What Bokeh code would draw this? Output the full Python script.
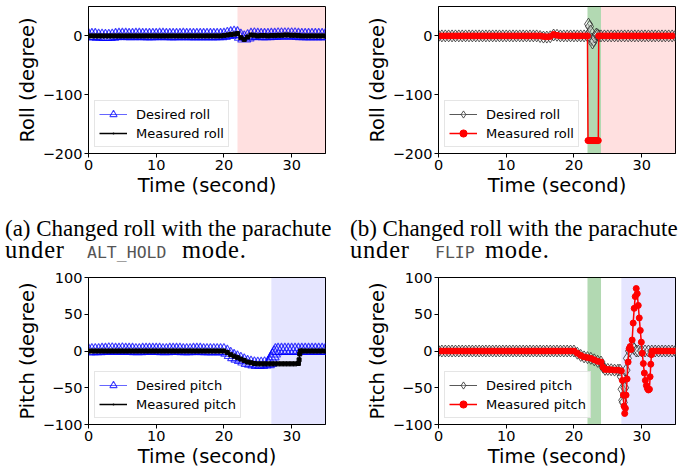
from bokeh.plotting import figure
from bokeh.models import BoxAnnotation, Legend, LegendItem, FixedTicker, Div, Range1d
from bokeh.layouts import column, row
from bokeh.embed import file_html
from bokeh.resources import INLINE

# ---------------- data ----------------
t_flat = [0.0, 0.5, 1.0, 1.5, 2.0, 2.5, 3.0, 3.5, 4.0, 4.5, 5.0, 5.5, 6.0, 6.5, 7.0, 7.5,
          8.0, 8.5, 9.0, 9.5, 10.0, 10.5, 11.0, 11.5, 12.0, 12.5, 13.0, 13.5, 14.0, 14.5,
          15.0, 15.5, 16.0, 16.5, 17.0, 17.5, 18.0, 18.5, 19.0, 19.5]
t_tail = [20.0, 20.5, 21.0, 21.5, 22.0, 22.5, 23.0, 23.5, 24.0, 24.5, 25.0, 25.5, 26.0,
          26.5, 27.0, 27.5, 28.0, 28.5, 29.0, 29.5, 30.0, 30.5, 31.0, 31.5, 32.0, 32.5,
          33.0, 33.5, 34.0, 34.5, 35.0]

# (a) roll, ALT_HOLD
roll_alt_des_t = t_flat + t_tail
roll_alt_des = [0, 0, 0, -1, -1, -1.5, -1.5, -1, 0, 0.5, 0.5, 0.5, 0, 0, 0.5, 0.5, 0, 0, 0, 0,
                0, 0.5, 0.5, 0, 0, 0, 0, 0, 0.5, 0, 0, 0, 0, 0, 0, 0, 0, 0, 0, 0,
                0.5, 2, 3, 4, 3, -1, -4, -2, 0.5, 1, 0.5, 0, 0, 0, 0.5, 0.5, 1, 1, 1, 1,
                1, 1, 0.5, 0, 0, 0, 0, 0, 0, 0, 0]
roll_alt_mea_t = t_flat + t_tail
roll_alt_mea = [0, 0, 0, 0, 0, 0, 0, 0, 0, 0, 0, 0, 0, 0, 0, 0, 0, 0, 0, 0,
                0, 0, 0, 0, 0, 0, 0, 0, 0, 0, 0, 0, 0, 0, 0, 0, 0, 0, 0, 0,
                0.5, 1.5, 2.5, 3, 4, -3, -6, -2, 1.5, 1, 0, 0.5, 0.5, 0, 0.5, 0.5, 1, 1, 1.5, 1.5,
                1, 1, 0.5, 0, 0, 0, 0, 0, 0, 0, 0]

# (b) roll, FLIP
roll_flip_des_t = t_flat + [20.0, 20.5, 21.0, 21.5, 22.0, 22.15, 22.3, 22.45, 22.6, 22.75, 22.9,
                            23.1, 23.3, 23.5, 23.7, 24.0, 24.5, 25.0, 25.5, 26.0, 26.5, 27.0,
                            27.5, 28.0, 28.5, 29.0, 29.5, 30.0, 30.5, 31.0, 31.5, 32.0, 32.5,
                            33.0, 33.5, 34.0, 34.5, 35.0]
roll_flip_des = [0, 0, 0, 0, 0, 0, 0, 0, 0, 0, 0, 0, 0, 0, 0, 0, 0, 0, 0, 0,
                 0, 0, 0, 0, 0, 0, 0, 0, 0, 0, -1, -2, -2, -1.5, 1.5, 1, 0, 0, 0, 0,
                 0, 0, 0, 0, 0, 20, 16, 8, -6, -12, -8, -2, 3, 2, 0, 0, 0, 0, 0, 0, 0, 0,
                 0, 0, 0, 0, 0, 0, 0, 0, 0, 0, 0, 0, 0, 0, 0, 0]
roll_flip_mea_t = t_flat + [20.0, 20.5, 21.0, 21.5, 22.0, 22.08, 22.25, 22.4, 22.55, 22.7, 22.85,
                            23.0, 23.15, 23.3, 23.45, 23.6, 23.66, 24.0, 24.5, 25.0, 25.5, 26.0,
                            26.5, 27.0, 27.5, 28.0, 28.5, 29.0, 29.5, 30.0, 30.5, 31.0, 31.5,
                            32.0, 32.5, 33.0, 33.5, 34.0, 34.5, 35.0]
roll_flip_mea = [0, 0, 0, 0, 0, 0, 0, 0, 0, 0, 0, 0, 0, 0, 0, 0, 0, 0, 0, 0,
                 0, 0, 0, 0, 0, 0, 0, 0, 0, 0, 0, -1, -1.5, -1, 2.5, 1, 0, 0, 0, 0,
                 0, 0, 0, 0, 0, -178, -178, -178, -178, -178, -178, -178, -178, -178, -178, -178,
                 0, 0, 0, 0, 0, 0, 0, 0, 0, 0, 0, 0, 0, 0, 0, 0, 0, 0, 0, 0, 0, 0, 0]

# (c) pitch, ALT_HOLD
pitch_alt_des_t = t_flat + [20.0, 20.5, 21.0, 21.5, 22.0, 22.5, 23.0, 23.5, 24.0, 24.5, 25.0,
                            25.5, 26.0, 26.5, 26.8, 27.0, 27.2, 27.4, 27.6, 28.0, 28.5, 29.0,
                            29.5, 30.0, 30.5, 31.0, 31.5, 32.0, 32.5, 33.0, 33.5, 34.0, 34.5, 35.0]
pitch_alt_des = [0, 0, 0, 0, 0.5, 0.5, 1, 1, 0.5, 0.5, 1, 0.5, 0.5, 0.5, 0, 0, 0.5, 0.5, 0.5, 0.5,
                 0.5, 0.5, 0, 0, 0.5, 0.5, 0.5, 0.5, 0, 0, 0, 0.5, 0.5, 0.5, 0, 0, 0, 0, 0, 0,
                 0, -2, -5, -8, -10, -12, -14, -16, -17, -18, -18.5, -18.5, -18, -17.5, -16,
                 -12, -7, -3, 0, 0.5, 0.5, 0.5, 0.5, 0.5, 0.5, 0.5, 0.5, 0.5, 0.5, 0.5, 0.5,
                 0.5, 0.5, 0.5]
pitch_alt_mea_t = t_flat + [20.0, 20.5, 21.0, 21.5, 22.0, 22.5, 23.0, 23.5, 24.0, 24.5, 25.0,
                            25.5, 26.0, 26.5, 27.0, 27.5, 28.0, 28.5, 29.0, 29.5, 30.0, 30.5,
                            31.0, 31.1, 31.2, 31.3, 31.5, 32.0, 32.5, 33.0, 33.5, 34.0, 34.5, 35.0]
pitch_alt_mea = [0, 0, 0, 0, 0, 0, 0, 0, 0, 0, 0, 0, 0, 0, 0, 0, 0, 0, 0, 0,
                 0, 0, 0, 0, 0, 0, 0, 0, 0, 0, 0, 0, 0, 0, 0, 0, 0, 0, 0, 0,
                 0, -2, -5, -7, -9, -11, -13, -15, -16, -17, -17.5, -17.5, -17.5, -17.5,
                 -17.5, -17.5, -17.5, -17.5, -17.5, -17.5, -17.5, -17.5, -17, -12, -4, 0,
                 0, 0, 0, 0, 0, 0, 0, 0]

# (d) pitch, FLIP
pitch_flip_des_t = t_flat + [20.0, 20.5, 21.0, 21.5, 22.0, 22.5, 23.0, 23.5, 24.0, 24.3, 24.6,
                             25.0, 25.5, 26.0, 26.5, 26.8, 27.0, 27.1, 27.2, 27.3, 27.5, 27.7,
                             27.9, 28.2, 28.6, 28.9, 29.2, 29.5, 30.0, 30.5, 31.0, 31.5, 32.0,
                             32.5, 33.0, 33.5, 34.0, 34.5, 35.0]
pitch_flip_des = [0, 0, 0, 0, 0, 0, 0, 0, 0, 0, 0, 0, 0, 0, 0, 0, 0, 0, 0, 0,
                  0, 0, 0, 0, 0, 0, 0, 0, 0, 0, 0, 0, 0, 0, 0, 0, 0, 0, 0, 0,
                  0, -3, -6, -8, -9, -10, -12, -14, -15, -22, -25, -25, -25.5, -26, -26, -26,
                  -35, -52, -67, -70, -50, -26, -10, 0, 7, 3, 0, 0, 0, 0, 0, 0, 0, 0, 0, 0,
                  0, 0, 0]
pitch_flip_mea_t = t_flat + [20.0, 20.5, 21.0, 21.5, 22.0, 22.5, 23.0, 23.5, 24.0, 24.3, 24.6,
                             25.0, 25.5, 26.0, 26.5, 27.0, 27.15, 27.3, 27.4, 27.5, 27.6, 27.7,
                             27.85, 28.0, 28.15, 28.3, 28.45, 28.6, 28.75, 28.9, 29.05, 29.2,
                             29.35, 29.5, 29.65, 29.8, 29.95, 30.1, 30.25, 30.4, 30.55, 30.7,
                             30.85, 31.0, 31.15, 31.25, 31.35, 31.45, 31.55, 32.0, 32.5, 33.0,
                             33.5, 34.0, 34.5, 35.0]
pitch_flip_mea = [0, 0, 0, 0, 0, 0, 0, 0, 0, 0, 0, 0, 0, 0, 0, 0, 0, 0, 0, 0,
                  0, 0, 0, 0, 0, 0, 0, 0, 0, 0, 0, 0, 0, 0, 0, 0, 0, 0, 0, 0,
                  0, -3, -6, -8, -9, -10, -12, -14, -15, -22, -25, -25, -25.5, -26, -26, -27,
                  -40, -60, -75, -85, -78, -60, -38, -15, 3, 6, 2, 15, 38, 58, 74, 85, 78, 62,
                  45, 28, 12, -3, -17, -30, -40, -47, -51, -53, -52, -35, -18, -5, 0, 0, 0,
                  0, 0, 0, 0, 0]

x_ticks = [0, 10, 20, 30]
roll_ticks = [-200, -100, 0]
pitch_ticks = [-100, -50, 0, 50, 100]
minus_labels = {-200: "\u2212200", -100: "\u2212100", -50: "\u221250"}

FONT = "DejaVu Sans"


def make_fig(ylo, yhi, yticks, ylabel, bl, br, bt, bb):
    p = figure(frame_width=237, frame_height=147, x_range=Range1d(0, 35),
               y_range=Range1d(ylo, yhi), output_backend="svg", toolbar_location=None,
               min_border_left=bl, min_border_right=br, min_border_top=bt,
               min_border_bottom=bb, background_fill_color="white",
               border_fill_color="white")
    p.grid.visible = False
    p.outline_line_color = "black"
    p.outline_line_alpha = 1.0
    p.outline_line_width = 1
    p.xaxis.ticker = FixedTicker(ticks=x_ticks)
    p.yaxis.ticker = FixedTicker(ticks=yticks)
    p.yaxis.major_label_overrides = {k: v for k, v in minus_labels.items() if k in yticks}
    for ax in (p.xaxis[0], p.yaxis[0]):
        ax.axis_line_color = "black"
        ax.major_tick_line_color = "black"
        ax.major_tick_out = 4
        ax.major_tick_in = 0
        ax.minor_tick_line_color = None
        ax.major_label_text_font = FONT
        ax.major_label_text_font_size = "14.5px"
        ax.major_label_text_color = "black"
        ax.axis_label_text_font = FONT
        ax.axis_label_text_font_size = "19.5px"
        ax.axis_label_text_font_style = "normal"
        ax.axis_label_text_color = "black"
        ax.major_label_standoff = 2
        ax.axis_label_standoff = 1
    p.xaxis.axis_label = "Time (second)"
    p.yaxis.axis_label = ylabel
    return p


def add_legend(p, items):
    leg = Legend(items=items, location="bottom_left", label_text_font=FONT,
                 label_text_font_size="13px", label_text_color="black",
                 glyph_width=28, glyph_height=18, label_height=18, label_standoff=9,
                 padding=4, spacing=1, margin=6, border_line_color="#cccccc",
                 border_line_width=1, background_fill_color="white",
                 background_fill_alpha=0.8)
    p.add_layout(leg)


def left_series(p, t1, v1, t2, v2, name):
    l1 = p.line(t1, v1, line_color="blue", line_alpha=0.6, line_width=1)
    s1 = p.scatter(t1, v1, marker="triangle", size=13, fill_color=None,
                   line_color="blue", line_alpha=0.75, line_width=1.1)
    l2 = p.line(t2, v2, line_color="black", line_width=1.5)
    s2 = p.scatter(t2, v2, marker="square", size=4, fill_color="black",
                   line_color="black")
    d2 = p.scatter(t2, v2, marker="dot", size=6, line_color="black", line_width=2.5,
                   fill_color="black")
    add_legend(p, [LegendItem(label="Desired " + name, renderers=[l1, s1]),
                   LegendItem(label="Measured " + name, renderers=[l2, d2])])


def right_series(p, t1, v1, t2, v2, name):
    l1 = p.line(t1, v1, line_color="#303030", line_alpha=0.8, line_width=1)
    s1 = p.scatter(t1, v1, marker="diamond", size=12, fill_color="white", fill_alpha=0.3,
                   line_color="#202020", line_alpha=0.75, line_width=1)
    l2 = p.line(t2, v2, line_color="red", line_width=1.5)
    s2 = p.scatter(t2, v2, marker="circle", size=6, fill_color="red", line_color="red")
    add_legend(p, [LegendItem(label="Desired " + name, renderers=[l1, s1]),
                   LegendItem(label="Measured " + name, renderers=[l2, s2])])


def shade(p, a, b, color, alpha):
    p.add_layout(BoxAnnotation(left=a, right=b, fill_color=color, fill_alpha=alpha,
                               line_color=None, level="underlay"))


# (a)
pa = make_fig(-200, 50, roll_ticks, "Roll (degree)", 88, 20, 6, 47)
shade(pa, 22, 35, "red", 0.12)
left_series(pa, roll_alt_des_t, roll_alt_des, roll_alt_mea_t, roll_alt_mea, "roll")

# (b)
pb = make_fig(-200, 50, roll_ticks, "Roll (degree)", 93, 15, 6, 47)
shade(pb, 22, 24, "green", 0.3)
shade(pb, 24, 35, "red", 0.12)
right_series(pb, roll_flip_des_t, roll_flip_des, roll_flip_mea_t, roll_flip_mea, "roll")

# (c)
pc = make_fig(-100, 100, pitch_ticks, "Pitch (degree)", 88, 20, 7, 42)
shade(pc, 27, 35, "blue", 0.1)
left_series(pc, pitch_alt_des_t, pitch_alt_des, pitch_alt_mea_t, pitch_alt_mea, "pitch")

# (d)
pd_ = make_fig(-100, 100, pitch_ticks, "Pitch (degree)", 93, 15, 7, 42)
shade(pd_, 22, 24, "green", 0.3)
shade(pd_, 27, 35, "blue", 0.1)
right_series(pd_, pitch_flip_des_t, pitch_flip_des, pitch_flip_mea_t, pitch_flip_mea, "pitch")

SERIF1 = "font-family:'Liberation Serif'; font-size:23px; color:#000; white-space:nowrap;"
SERIF2 = "font-family:'Liberation Serif'; font-size:24.5px; color:#000; white-space:nowrap; letter-spacing:0.8px;"
CAP = ("<div style=\"position:relative; width:345px; height:70px;\">"
       "<div style=\"position:absolute; left:5px; top:18px; line-height:21.5px; " + SERIF1 + "\">{l1}</div>"
       "<div style=\"position:absolute; left:5px; top:39px; line-height:21.5px; " + SERIF2 + "\">under</div>"
       "<div style=\"position:absolute; left:{mx}px; top:41.5px; line-height:21.5px; "
       "font-family:'DejaVu Sans Mono'; font-size:16.5px; color:#555; white-space:nowrap;\">{mode}</div>"
       "<div style=\"position:absolute; left:{dx}px; top:39px; line-height:21.5px; " + SERIF2 + "\">mode.</div></div>")
da = Div(text=CAP.format(l1="(a) Changed roll with the parachute", mode="ALT_HOLD", mx=87, dx=182),
         width=345, height=70, margin=0)
db = Div(text=CAP.format(l1="(b) Changed roll with the parachute", mode="FLIP", mx=90, dx=140),
         width=345, height=70, margin=0)

layout = column(row(pa, pb), row(da, db), row(pc, pd_),
                styles={"position": "absolute", "left": "0px", "top": "0px"})

open("out.html", "w").write(file_html(layout, INLINE))
